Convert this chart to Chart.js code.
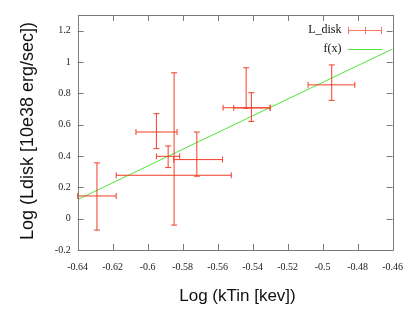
<!DOCTYPE html>
<html>
<head>
<meta charset="utf-8">
<script src="https://cdn.jsdelivr.net/npm/chart.js@4/dist/chart.umd.min.js"></script>
<style>
  html, body { margin: 0; padding: 0; background: #fff; }
  #wrap { width: 414px; height: 311px; position: relative; }
</style>
</head>
<body>
<div id="wrap"><canvas id="c" width="414" height="311"></canvas></div>
<script>
// ---- data ----
const xVals  = [-0.629, -0.595, -0.5883, -0.5849, -0.5719, -0.5437, -0.5407, -0.4948];
const yVals  = [0.145, 0.553, 0.398, 0.277, 0.377, 0.708, 0.707, 0.854];
const xLow   = [-0.640, -0.6067, -0.5950, -0.6180, -0.5851, -0.5569, -0.5508, -0.5083];
const xHigh  = [-0.618, -0.5832, -0.5817, -0.5522, -0.5572, -0.5300, -0.5300, -0.4816];
const yLow   = [-0.073, 0.447, 0.326, -0.041, 0.271, 0.705, 0.621, 0.755];
const yHigh  = [0.356, 0.670, 0.464, 0.931, 0.553, 0.963, 0.804, 0.9815];

const fitX = [-0.64, -0.46];
const fitY = [0.1224, 1.0833];

const xTicks = [-0.64, -0.62, -0.60, -0.58, -0.56, -0.54, -0.52, -0.50, -0.48, -0.46];
const xTickLabels = ['-0.64', '-0.62', '-0.6', '-0.58', '-0.56', '-0.54', '-0.52', '-0.5', '-0.48', '-0.46'];
const yTicks = [-0.2, 0, 0.2, 0.4, 0.6, 0.8, 1.0, 1.2];
const yTickLabels = ['-0.2', '0', '0.2', '0.4', '0.6', '0.8', '1', '1.2'];

const seriesNames = ['L_disk', 'f(x)'];
const xTitle = 'Log (kTin [kev])';
const yTitle = 'Log (Ldisk [10e38 erg/sec])';

// ---- styles ----
const RED = 'rgb(242,62,40)';
const RED_LEG = 'rgb(248,120,100)';
const GREEN = 'rgb(80,228,55)';
const BORDER = '#7a7a7a';

const errorBarPlugin = {
  id: 'errbars',
  afterDatasetsDraw(chart) {
    const ctx = chart.ctx, xs = chart.scales.x, ys = chart.scales.y, a = chart.chartArea;
    ctx.save();
    ctx.beginPath();
    ctx.rect(a.left - 1, a.top - 1, a.right - a.left + 2, a.bottom - a.top + 2);
    ctx.clip();
    ctx.strokeStyle = RED;
    ctx.lineWidth = 1;
    const cap = 3;
    for (let i = 0; i < xVals.length; i++) {
      const px = xs.getPixelForValue(xVals[i]);
      const py = ys.getPixelForValue(yVals[i]);
      const x0 = xs.getPixelForValue(xLow[i]), x1 = xs.getPixelForValue(xHigh[i]);
      const y0 = ys.getPixelForValue(yLow[i]), y1 = ys.getPixelForValue(yHigh[i]);
      ctx.beginPath();
      // horizontal bar
      ctx.moveTo(x0, py); ctx.lineTo(x1, py);
      ctx.moveTo(x0, py - cap); ctx.lineTo(x0, py + cap);
      ctx.moveTo(x1, py - cap); ctx.lineTo(x1, py + cap);
      // vertical bar
      ctx.moveTo(px, y0); ctx.lineTo(px, y1);
      ctx.moveTo(px - cap, y0); ctx.lineTo(px + cap, y0);
      ctx.moveTo(px - cap, y1); ctx.lineTo(px + cap, y1);
      ctx.stroke();
    }
    ctx.restore();
  }
};

const framePlugin = {
  id: 'frame',
  afterDraw(chart) {
    const ctx = chart.ctx, xs = chart.scales.x, ys = chart.scales.y, a = chart.chartArea;
    ctx.save();
    ctx.strokeStyle = BORDER;
    ctx.lineWidth = 1;
    const L = 6;
    ctx.beginPath();
    xTicks.forEach(v => {
      const p = Math.round(xs.getPixelForValue(v)) + 0.5;
      ctx.moveTo(p, a.bottom); ctx.lineTo(p, a.bottom - L);
      ctx.moveTo(p, a.top); ctx.lineTo(p, a.top + L);
    });
    yTicks.forEach(v => {
      const p = Math.round(ys.getPixelForValue(v)) + 0.5;
      ctx.moveTo(a.left, p); ctx.lineTo(a.left + L, p);
      ctx.moveTo(a.right, p); ctx.lineTo(a.right - L, p);
    });
    ctx.stroke();
    ctx.beginPath();
    ctx.rect(Math.round(a.left) + 0.5, Math.round(a.top) + 0.5,
             Math.round(a.right) - Math.round(a.left), Math.round(a.bottom) - Math.round(a.top));
    ctx.stroke();

    // legend
    ctx.fillStyle = '#111';
    ctx.font = '12px "Liberation Serif", "DejaVu Serif", serif';
    ctx.textAlign = 'right';
    ctx.textBaseline = 'middle';
    const tx = 341.5, s0 = 348, s1 = 382, ly1 = 30, ly2 = 49;
    ctx.fillText(seriesNames[0], tx, ly1);
    ctx.fillText(seriesNames[1], tx, ly2);
    ctx.strokeStyle = RED_LEG;
    ctx.beginPath();
    ctx.moveTo(s0, ly1 + 0.5); ctx.lineTo(s1, ly1 + 0.5);
    ctx.moveTo(s0 + 0.5, ly1 - 3); ctx.lineTo(s0 + 0.5, ly1 + 4);
    ctx.moveTo(s1 - 0.5, ly1 - 3); ctx.lineTo(s1 - 0.5, ly1 + 4);
    ctx.moveTo(365.5, ly1 - 3); ctx.lineTo(365.5, ly1 + 4);
    ctx.stroke();
    ctx.strokeStyle = GREEN;
    ctx.beginPath();
    ctx.moveTo(s0, ly2 + 0.5); ctx.lineTo(s1, ly2 + 0.5);
    ctx.stroke();

    // axis titles
    ctx.fillStyle = '#111';
    ctx.textAlign = 'center';
    ctx.textBaseline = 'alphabetic';
    ctx.font = '17px "Liberation Sans", Arial, sans-serif';
    ctx.fillText(xTitle, 237.5, 301);
    ctx.save();
    ctx.translate(33, 131);
    ctx.rotate(-Math.PI / 2);
    ctx.font = '18px "Liberation Sans", Arial, sans-serif';
    ctx.fillText(yTitle, 0, 0);
    ctx.restore();
    ctx.restore();
  }
};

new Chart(document.getElementById('c'), {
  type: 'scatter',
  data: {
    datasets: [
      {
        label: seriesNames[0],
        data: xVals.map((x, i) => ({ x: x, y: yVals[i] })),
        pointRadius: 0,
        showLine: false,
        borderColor: RED,
        backgroundColor: RED
      },
      {
        label: seriesNames[1],
        type: 'line',
        data: fitX.map((x, i) => ({ x: x, y: fitY[i] })),
        borderColor: GREEN,
        borderWidth: 1,
        pointRadius: 0,
        fill: false,
        tension: 0
      }
    ]
  },
  options: {
    responsive: false,
    animation: false,
    devicePixelRatio: 1,
    layout: { padding: { left: 0, right: 17.3, top: 15, bottom: 0 } },
    plugins: { legend: { display: false }, tooltip: { enabled: false } },
    scales: {
      x: {
        type: 'linear',
        min: -0.64, max: -0.46,
        afterBuildTicks: s => { s.ticks = xTicks.map(v => ({ value: v })); },
        afterFit: s => { s.height = 61; },
        grid: { display: false, drawTicks: false },
        border: { display: false },
        ticks: {
          padding: 11,
          maxRotation: 0,
          autoSkip: false,
          color: '#222',
          font: { family: '"Liberation Serif", "DejaVu Serif", serif', size: 10 },
          callback: (v, i) => xTickLabels[i]
        }
      },
      y: {
        type: 'linear',
        min: -0.2, max: 1.3,
        afterBuildTicks: s => { s.ticks = yTicks.map(v => ({ value: v })); },
        afterFit: s => { s.width = 77.7; },
        grid: { display: false, drawTicks: false },
        border: { display: false },
        ticks: {
          padding: 7,
          autoSkip: false,
          color: '#222',
          font: { family: '"Liberation Serif", "DejaVu Serif", serif', size: 10 },
          callback: (v, i) => yTickLabels[i]
        }
      }
    }
  },
  plugins: [errorBarPlugin, framePlugin]
});
</script>
</body>
</html>
